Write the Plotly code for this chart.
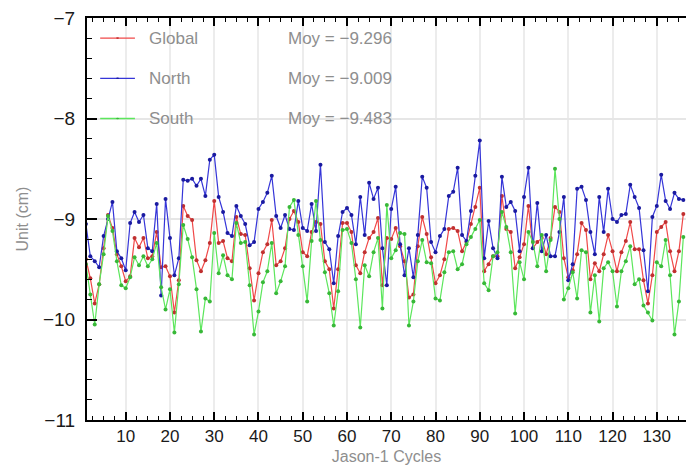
import plotly.graph_objects as go

# Jason-1 cycle numbers
cycles = list(range(1, 137))

# Mean SLA difference per cycle (cm)
global_vals = [
    -9.40, -9.59, -9.84, -9.65, -9.29, -8.96, -9.09, -9.35, -9.47, -9.62,
    -9.57, -9.19, -9.28, -9.19, -9.39, -9.37, -9.13, -9.48, -9.47, -9.57,
    -9.93, -9.61, -8.87, -8.97, -9.01, -9.41, -9.52, -9.41, -9.24, -8.82,
    -9.24, -9.22, -9.39, -9.42, -8.98, -9.15, -9.16, -9.49, -9.81, -9.54,
    -9.33, -9.25, -9.01, -9.46, -9.42, -9.29, -9.00, -8.92, -9.03, -9.33,
    -9.37, -9.13, -9.03, -9.05, -9.42, -9.50, -9.89, -9.50, -9.04, -9.04,
    -9.13, -9.46, -9.54, -9.33, -9.19, -9.13, -8.99, -9.66, -9.19, -9.20,
    -9.09, -9.27, -9.42, -9.78, -9.75, -9.27, -8.98, -9.15, -9.38, -9.64,
    -9.56, -9.40, -9.10, -9.09, -9.12, -9.32, -9.23, -9.05, -8.88, -8.69,
    -9.52, -9.45, -9.37, -9.37, -8.77, -9.10, -9.13, -9.49, -9.38, -9.25,
    -8.87, -9.29, -9.23, -9.19, -9.35, -9.19, -8.88, -8.93, -9.39, -9.58,
    -9.51, -9.35, -9.04, -9.11, -9.60, -9.44, -9.52, -9.35, -9.16, -9.32,
    -9.52, -9.33, -9.22, -9.03, -9.30, -9.30, -9.61, -9.84, -9.56, -9.13,
    -9.08, -9.03, -9.32, -9.52, -9.32, -8.95,
]

north_vals = [
    -9.05, -9.37, -9.42, -9.48, -9.17, -9.00, -8.83, -9.32, -9.39, -9.51,
    -9.04, -8.93, -9.03, -8.96, -9.29, -9.32, -8.85, -9.76, -8.80, -9.19,
    -9.56, -9.39, -8.61, -8.62, -8.60, -8.67, -8.60, -8.77, -8.41, -8.36,
    -8.78, -8.93, -9.14, -9.17, -8.87, -8.97, -9.05, -9.26, -9.23, -8.90,
    -8.83, -8.74, -8.57, -8.97, -9.09, -8.96, -9.10, -9.11, -8.82, -9.09,
    -9.12, -8.85, -9.12, -8.46, -9.23, -9.30, -9.64, -9.17, -8.93, -8.89,
    -8.96, -9.25, -8.78, -9.16, -8.64, -8.80, -8.69, -9.29, -9.66, -8.90,
    -8.68, -9.25, -9.56, -9.29, -9.58, -9.16, -8.58, -8.69, -9.23, -9.33,
    -9.17, -9.10, -8.77, -8.73, -8.49, -9.16, -9.22, -8.92, -8.57, -8.22,
    -9.39, -9.02, -9.29, -9.39, -8.58, -8.88, -8.83, -8.92, -9.32, -8.78,
    -8.49, -9.29, -8.84, -9.32, -9.16, -9.37, -9.37, -9.13, -8.78, -9.61,
    -9.45, -8.70, -8.68, -8.81, -9.13, -9.35, -8.78, -9.13, -8.70, -9.00,
    -9.03, -8.96, -8.95, -8.66, -8.78, -8.89, -9.31, -9.72, -8.98, -8.87,
    -8.56, -8.82, -8.90, -8.74, -8.80, -8.81,
]

south_vals = [
    -9.45, -9.75, -10.05, -9.65, -9.35, -8.97, -9.12, -9.42, -9.66, -9.69,
    -9.58, -9.38, -9.46, -9.37, -9.47, -9.40, -9.24, -9.68, -9.90, -9.70,
    -10.13, -9.65, -9.06, -9.20, -9.38, -9.70, -10.12, -9.79, -9.82, -9.14,
    -9.54, -9.36, -9.56, -9.60, -9.04, -9.24, -9.23, -9.66, -10.15, -9.92,
    -9.63, -9.52, -9.24, -9.74, -9.62, -9.47, -8.88, -8.81, -9.16, -9.47,
    -9.82, -9.22, -8.82, -9.21, -9.53, -9.74, -10.06, -9.72, -9.11, -9.10,
    -9.24, -9.60, -10.08, -9.46, -9.57, -9.33, -9.19, -9.89, -8.86, -9.39,
    -9.31, -9.14, -9.15, -10.06, -9.82, -9.42, -9.21, -9.43, -9.44, -9.79,
    -9.81, -9.53, -9.33, -9.32, -9.50, -9.45, -9.25, -9.18, -9.10, -9.01,
    -9.64, -9.71, -9.37, -9.33, -8.93, -9.08, -9.33, -9.94, -9.43, -9.60,
    -9.13, -9.23, -9.47, -9.16, -9.52, -9.21, -8.50, -9.00, -9.80, -9.69,
    -9.53, -9.79, -9.31, -9.33, -9.93, -9.56, -10.02, -9.49, -9.43, -9.52,
    -9.87, -9.52, -9.42, -9.27, -9.65, -9.60, -9.86, -9.93, -10.01, -9.43,
    -9.47, -9.21, -9.56, -10.15, -9.82, -9.18,
]

series_names = ["Global", "North", "South"]
series_means = ["Moy = \u22129.296", "Moy = \u22129.009", "Moy = \u22129.483"]
line_colors = ["#f04848", "#3535d8", "#5ce65c"]
marker_colors = ["#c03030", "#1a1aa0", "#38b838"]
legend_rows = [-7.2, -7.6, -8.0]

x_ticks = list(range(10, 131, 10))
y_ticks = [-11, -10, -9, -8, -7]

label_gray = "#8e8e8e"
axis_font = "Liberation Sans, Arial, sans-serif"

fig = go.Figure()
for name, vals, lc, mc in zip(series_names, [global_vals, north_vals, south_vals],
                              line_colors, marker_colors):
    fig.add_trace(go.Scatter(
        x=cycles, y=vals, name=name, mode="lines+markers",
        line=dict(color=lc, width=1.2),
        marker=dict(color=mc, size=4, symbol="circle"),
    ))

# In-plot key: short line sample with a dot, series name, and mean value
shapes = []
annotations = []
for name, mean_txt, lc, mc, yrow in zip(series_names, series_means, line_colors,
                                        marker_colors, legend_rows):
    shapes.append(dict(type="line", xref="paper", yref="y",
                       x0=0.022, x1=0.080, y0=yrow, y1=yrow,
                       line=dict(color=lc, width=1.3)))
    shapes.append(dict(type="circle", xref="paper", yref="y",
                       x0=0.0485, x1=0.0535, y0=yrow - 0.008, y1=yrow + 0.008,
                       fillcolor=mc, line=dict(color=mc, width=0)))
    annotations.append(dict(text=name, xref="paper", yref="y", x=0.100, y=yrow,
                            xanchor="left", yanchor="middle", showarrow=False,
                            font=dict(family=axis_font, size=17, color=label_gray)))
    annotations.append(dict(text=mean_txt, xref="paper", yref="y", x=0.332, y=yrow,
                            xanchor="left", yanchor="middle", showarrow=False,
                            font=dict(family=axis_font, size=17, color=label_gray)))

fig.update_layout(
    width=686, height=471,
    margin=dict(l=87, r=0, t=18, b=51),
    paper_bgcolor="white", plot_bgcolor="white",
    showlegend=False,
    shapes=shapes, annotations=annotations,
    font=dict(family=axis_font),
)

fig.update_xaxes(
    range=[1.25, 136.6],
    tickmode="array", tickvals=x_ticks,
    ticks="inside", ticklen=8, tickwidth=1.5, tickcolor="black",
    minor=dict(dtick=2.5, tick0=0, ticks="inside", ticklen=4, tickwidth=1,
               tickcolor="black", showgrid=False),
    showline=True, linecolor="black", linewidth=2, mirror="ticks",
    showgrid=True, gridcolor="#ececec", gridwidth=2,
    zeroline=False,
    tickfont=dict(size=17, color="#1a1a1a"),
    title=dict(text="Jason-1 Cycles", font=dict(size=16, color=label_gray), standoff=5),
)

fig.update_yaxes(
    range=[-11, -7],
    tickmode="array", tickvals=y_ticks,
    ticks="inside", ticklen=10, tickwidth=1.5, tickcolor="black",
    minor=dict(dtick=0.2, tick0=-11, ticks="inside", ticklen=5, tickwidth=1,
               tickcolor="black", showgrid=False),
    showline=True, linecolor="black", linewidth=2, mirror=False,
    showgrid=True, gridcolor="#e6e6e6", gridwidth=1.5,
    zeroline=False,
    tickfont=dict(size=19, color="#1a1a1a"),
    ticklabelstandoff=6,
    title=dict(text="Unit (cm)", font=dict(size=16, color=label_gray), standoff=10),
)

fig.write_html("out.html")
